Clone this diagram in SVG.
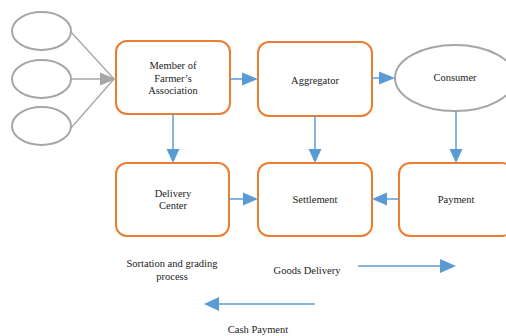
<svg xmlns="http://www.w3.org/2000/svg" width="506" height="336" viewBox="0 0 506 336">
<style>
.box{fill:#fff;stroke:#ED7D31;stroke-width:2}
.ell{fill:#fff;stroke:#A6A6A6;stroke-width:2}
.t{font-family:"Liberation Serif","Times New Roman",serif;font-size:10.5px;fill:#222;text-anchor:middle}
.b{stroke:#5B9BD5;stroke-width:1.5;fill:none}
.g{stroke:#A6A6A6;stroke-width:1.3;fill:none}
.bh{fill:#5B9BD5}
.gh{fill:#A6A6A6}
</style>
<rect width="506" height="336" fill="#fff"/>
<g id="farmer1"><ellipse class="ell" cx="41.5" cy="31" rx="29.5" ry="19"/></g>
<g id="farmer2"><ellipse class="ell" cx="41.5" cy="79" rx="29.5" ry="19"/></g>
<g id="farmer3"><ellipse class="ell" cx="41.5" cy="126" rx="29.5" ry="19"/></g>
<g id="member"><rect class="box" x="116" y="41" width="114" height="73" rx="11"/>
<text class="t" x="173" y="69">Member of</text><text class="t" x="173" y="81.5">Farmer’s</text><text class="t" x="173" y="94">Association</text></g>
<g id="aggregator"><rect class="box" x="258" y="42" width="114" height="74" rx="11"/>
<text class="t" x="315" y="84">Aggregator</text></g>
<g id="consumer"><ellipse class="ell" cx="455" cy="78" rx="60" ry="33"/>
<text class="t" x="455" y="81">Consumer</text></g>
<g id="delivery"><rect class="box" x="116" y="163" width="113" height="73" rx="11"/>
<text class="t" x="173" y="197">Delivery</text><text class="t" x="173" y="209">Center</text></g>
<g id="settlement"><rect class="box" x="258" y="163" width="114" height="73" rx="11"/>
<text class="t" x="315" y="203">Settlement</text></g>
<g id="payment"><rect class="box" x="399" y="163" width="114" height="73" rx="11"/>
<text class="t" x="456" y="203">Payment</text></g>
<g id="labels">
<text class="t" x="172" y="267">Sortation and grading</text>
<text class="t" x="172" y="280">process</text>
<text class="t" x="307" y="274">Goods Delivery</text>
<text class="t" x="258" y="333">Cash Payment</text>
</g>
<g id="connectors">
<path class="g" d="M71 32 L114 79 M71 79 L101 79 M71 128 L114 79"/>
<polygon class="gh" points="116,79 100,72.5 100,85.5"/>
<path class="b" d="M230 79 L243 79"/><polygon class="bh" points="258,79 242,72.5 242,85.5"/>
<path class="b" d="M372 78 L380 78"/><polygon class="bh" points="395,78 379,71.5 379,84.5"/>
<path class="b" d="M173 114 L173 151"/><polygon class="bh" points="173,163 166.5,149 179.5,149"/>
<path class="b" d="M315 116 L315 151"/><polygon class="bh" points="315,163 308.5,149 321.5,149"/>
<path class="b" d="M456 111 L456 151"/><polygon class="bh" points="456,163 449.5,149 462.5,149"/>
<path class="b" d="M229 199 L244 199"/><polygon class="bh" points="258,199 243,192.5 243,205.5"/>
<path class="b" d="M399 199 L386 199"/><polygon class="bh" points="372,199 387,192.5 387,205.5"/>
<path class="b" d="M358 266 L441 266"/><polygon class="bh" points="456,266 440,259 440,273"/>
<path class="b" d="M315 304 L218 304"/><polygon class="bh" points="204,304 219,297 219,311"/>
</g>
</svg>
